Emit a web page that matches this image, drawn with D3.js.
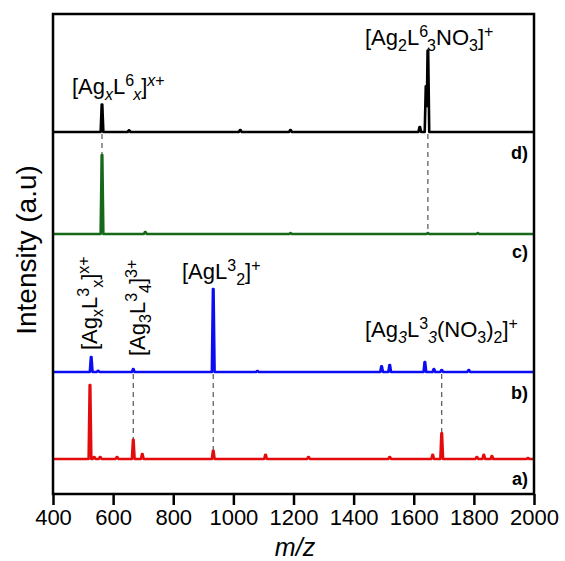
<!DOCTYPE html>
<html>
<head>
<meta charset="utf-8">
<script src="https://cdn.jsdelivr.net/npm/d3@7"></script>
<style>
  body { margin: 0; background: #fff; }
  text { font-family: "Liberation Sans", Arial, sans-serif; fill: #000; }
</style>
</head>
<body>
<div id="chart"></div>
<script>
// m/z axis
const mzDomain = [400, 2000];
const mzTicks = [400, 600, 800, 1000, 1200, 1400, 1600, 1800, 2000];

// peaks as [m/z, relative intensity]
const peaksBlack = [[563, 33], [653, 2], [1023, 2.5], [1190, 2.5], [1620, 6], [1641, 55], [1647, 98]];
const peaksGreen = [[563, 95], [707, 2.5], [1190, 1], [1647, 1], [1813, 1]];
const peaksBlue = [[527, 18], [550, 1.5], [667, 3.5], [933, 100], [1080, 1.2], [1493, 7], [1520, 8.5],
                   [1637, 12], [1667, 3.5], [1693, 2.5], [1783, 2.5]];
const peaksRed = [[523, 89], [537, 2.5], [557, 2.5], [613, 2.5], [667, 23], [697, 6], [933, 10], [1107, 5],
                  [1250, 2.5], [1520, 2.5], [1663, 5], [1693, 31], [1810, 2.5], [1833, 5], [1860, 3.5], [1980, 1.2]];

const panelLetters = ['d)', 'c)', 'b)', 'a)'];
// dashed guides: m/z, upper spectrum, lower spectrum
const guides = [[563, 0, 1], [1647, 0, 1], [667, 2, 3], [933, 2, 3], [1693, 2, 3]];

const W = 565, H = 561;
const frame = { left: 53, right: 534, top: 14, bottom: 494 };

const svg = d3.select('#chart').append('svg')
    .attr('width', W)
    .attr('height', H);

const x = d3.scaleLinear().domain(mzDomain).range([frame.left, frame.right]);
const yUnit = d3.scaleLinear().domain([0, 100]).range([0, 83]);

const spectra = [
    { peaks: peaksBlack, color: '#000000', base: 132 },
    { peaks: peaksGreen, color: '#17691a', base: 234 },
    { peaks: peaksBlue, color: '#0c0cf2', base: 372 },
    { peaks: peaksRed, color: '#e30b0b', base: 459 }
];

// intensity profile of a spectrum at a given m/z
function profile(peaks, mz) {
    let v = 0;
    peaks.forEach(p => {
        const d = Math.abs(mz - p[0]);
        let f = d <= 1 ? 1 : Math.max(0, 1 - (d - 1) / 3.5);
        v = Math.max(v, p[1] * f);
    });
    return v;
}

const grid = d3.range(mzDomain[0], mzDomain[1] + 0.25, 0.5);

// dashed guides (drawn under the spectra)
svg.append('g').selectAll('line')
    .data(guides)
    .join('line')
    .attr('x1', d => x(d[0]))
    .attr('x2', d => x(d[0]))
    .attr('y1', d => spectra[d[1]].base + 2)
    .attr('y2', d => spectra[d[2]].base - yUnit(profile(spectra[d[2]].peaks, d[0])))
    .attr('stroke', '#555')
    .attr('stroke-width', 1.2)
    .attr('stroke-dasharray', '5,4');

// spectra
spectra.forEach(s => {
    const line = d3.line()
        .x(d => x(d))
        .y(d => s.base - yUnit(profile(s.peaks, d)));
    svg.append('path')
        .attr('d', line(grid))
        .attr('fill', 'none')
        .attr('stroke', s.color)
        .attr('stroke-width', 2.6)
        .attr('stroke-linejoin', 'round');
});

// frame
svg.append('rect')
    .attr('x', frame.left)
    .attr('y', frame.top)
    .attr('width', frame.right - frame.left)
    .attr('height', frame.bottom - frame.top)
    .attr('fill', 'none')
    .attr('stroke', '#000')
    .attr('stroke-width', 2.5);

// x axis
const xAxis = svg.append('g')
    .attr('transform', `translate(0,${frame.bottom})`)
    .call(d3.axisBottom(x).tickValues(mzTicks).tickSize(11).tickSizeOuter(0).tickPadding(4).tickFormat(d3.format('d')));
xAxis.select('.domain').remove();
xAxis.selectAll('line').attr('stroke', '#000').attr('stroke-width', 2.5);
xAxis.selectAll('text')
    .style('font-family', '"Liberation Sans", Arial, sans-serif')
    .attr('font-size', 22)
    .attr('fill', '#000');

// axis titles
svg.append('text')
    .attr('x', 295)
    .attr('y', 556)
    .attr('text-anchor', 'middle')
    .attr('font-size', 25)
    .attr('font-style', 'italic')
    .text('m/z');

svg.append('text')
    .attr('transform', 'translate(36,250) rotate(-90)')
    .attr('text-anchor', 'middle')
    .attr('font-size', 28)
    .text('Intensity (a.u)');

// panel letters
svg.append('g').selectAll('text')
    .data(panelLetters)
    .join('text')
    .attr('x', 528)
    .attr('y', (d, i) => [159, 258, 399, 485][i])
    .attr('text-anchor', 'end')
    .style('font-size', '18px')
    .style('font-weight', 'bold')
    .text(d => d);

// chemical labels built from tspans: s = sub, p = sup, i = italic
function rich(g, parts, size) {
    const small = Math.round(size * 0.72);
    const t = g.append('text').attr('font-size', size);
    let shift = 0;
    parts.forEach(p => {
        const target = p.s ? size * 0.25 : p.p ? -size * 0.38 : 0;
        const ts = t.append('tspan')
            .attr('dy', target - shift)
            .attr('font-size', p.s || p.p ? small : size)
            .text(p.t);
        if (p.i) ts.attr('font-style', 'italic');
        if (p.dx) ts.attr('dx', p.dx);
        shift = target;
    });
    return t;
}

const labels = [
    { pos: 'translate(72,94)', parts: [{ t: '[Ag' }, { t: 'x', s: 1, i: 1 }, { t: 'L' }, { t: '6', p: 1 }, { t: 'x', s: 1, i: 1, dx: -1 }, { t: ']' }, { t: 'x', p: 1, i: 1 }, { t: '+', p: 1 }] },
    { pos: 'translate(365,45)', parts: [{ t: '[Ag' }, { t: '2', s: 1 }, { t: 'L' }, { t: '6', p: 1 }, { t: '3', s: 1, dx: -1 }, { t: 'NO' }, { t: '3', s: 1 }, { t: ']' }, { t: '+', p: 1 }] },
    { pos: 'translate(182,279)', parts: [{ t: '[AgL' }, { t: '3', p: 1 }, { t: '2', s: 1 }, { t: ']' }, { t: '+', p: 1 }] },
    { pos: 'translate(365,337)', parts: [{ t: '[Ag' }, { t: '3', s: 1, i: 1 }, { t: 'L' }, { t: '3', p: 1 }, { t: '3', s: 1, i: 1 }, { t: '(NO' }, { t: '3', s: 1 }, { t: ')' }, { t: '2', s: 1 }, { t: ']' }, { t: '+', p: 1 }] },
    { pos: 'translate(97,350) rotate(-90)', parts: [{ t: '[Ag' }, { t: 'x', s: 1 }, { t: 'L' }, { t: '3', p: 1 }, { t: 'x', s: 1 }, { t: ']' }, { t: 'x+', p: 1 }] },
    { pos: 'translate(145,356) rotate(-90)', parts: [{ t: '[Ag' }, { t: '3', s: 1 }, { t: 'L' }, { t: '3', p: 1 }, { t: '4', s: 1 }, { t: ']' }, { t: '3+', p: 1 }] }
];

labels.forEach(l => {
    const g = svg.append('g').attr('transform', l.pos);
    rich(g, l.parts, 22);
});
</script>
</body>
</html>
